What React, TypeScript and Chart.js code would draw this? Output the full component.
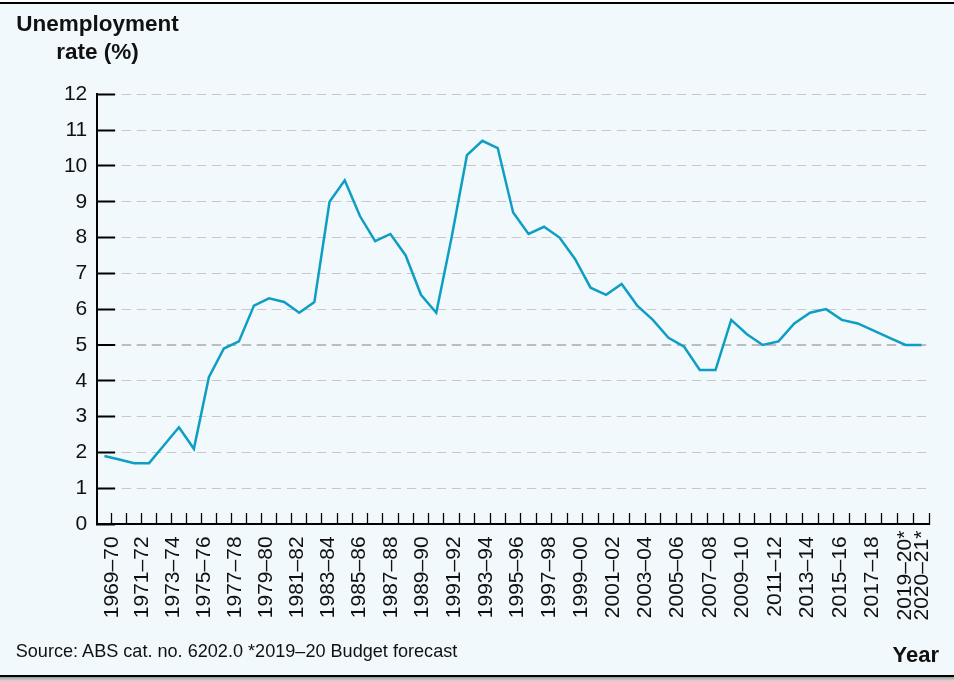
import React, { useEffect, useRef } from 'react';
import { Chart, registerables, CategoryScale, LinearScale } from 'chart.js';

// Unemployment rate (%) – one value per plotted step
const unemploymentRate = [
  1.9, 1.8, 1.7, 1.7, 2.2, 2.7, 2.1, 4.1, 4.9, 5.1,
  6.1, 6.3, 6.2, 5.9, 6.2, 9.0, 9.6, 8.6, 7.9, 8.1,
  7.5, 6.4, 5.9, 8.0, 10.3, 10.7, 10.5, 8.7, 8.1, 8.3,
  8.0, 7.4, 6.6, 6.4, 6.7, 6.1, 5.7, 5.2, 4.95, 4.3,
  4.3, 5.7, 5.3, 5.0, 5.1, 5.6, 5.9, 6.0, 5.7, 5.6,
  5.4, 5.2, 5.0, 5.0,
];

// Financial-year labels of the x axis
const yearLabels = [
  '1969–70', '1970–71', '1971–72', '1972–73', '1973–74', '1974–75', '1975–76', '1976–77',
  '1977–78', '1978–79', '1979–80', '1980–81', '1981–82', '1982–83', '1983–84', '1984–85',
  '1985–86', '1986–87', '1987–88', '1988–89', '1989–90', '1990–91', '1991–92', '1992–93',
  '1993–94', '1994–95', '1995–96', '1996–97', '1997–98', '1998–99', '1999–00', '2000–01',
  '2001–02', '2002–03', '2003–04', '2004–05', '2005–06', '2006–07', '2007–08', '2008–09',
  '2009–10', '2010–11', '2011–12', '2012–13', '2013–14', '2014–15', '2015–16', '2016–17',
  '2017–18', '2018–19', '2019–20*', '2020–21*',
];

const yMin = 0;
const yMax = 12;
const yStep = 1;

const FONT = '"Liberation Sans", Arial, Helvetica, sans-serif';
const LINE_COLOR = '#0e9ec4';
const BG = '#f2f9fc';

// The printed axis is slightly compressed on its left side; reproduce that spacing.
const WARP = 0.0376;
const warp = (d: number) => d + WARP * (d * d - d);

class WarpedCategoryScale extends CategoryScale {
  static id = 'warpedCategory';
  static defaults = CategoryScale.defaults;
  getPixelForDecimal(d: number) {
    return super.getPixelForDecimal(warp(d));
  }
}

class WarpedLinearScale extends LinearScale {
  static id = 'warpedLinear';
  static defaults = LinearScale.defaults;
  getPixelForDecimal(d: number) {
    return super.getPixelForDecimal(warp(d));
  }
}

Chart.register(...registerables, WarpedCategoryScale as any, WarpedLinearScale as any);

export default function App() {
  const canvasRef = useRef<HTMLCanvasElement | null>(null);

  useEffect(() => {
    const canvas = canvasRef.current;
    if (!canvas) return;

    const stepLabels = unemploymentRate.map((_, i) => String(i));
    const shownYears = yearLabels
      .map((_, i) => i)
      .filter((i) => i % 2 === 0 || i === yearLabels.length - 1);

    // year axis: year j sits at plotted step 0.5 + 1.03 j
    const yearStep = 1.03;
    const yearOffset = 0.5;
    const n = unemploymentRate.length;
    const yearMin = (-0.5 - yearOffset) / yearStep;
    const yearMax = (n - 0.5 - yearOffset) / yearStep;

    const chart = new Chart(canvas, {
      type: 'line',
      data: {
        labels: stepLabels,
        datasets: [
          {
            data: unemploymentRate,
            borderColor: LINE_COLOR,
            borderWidth: 2.5,
            pointRadius: 0,
            pointHoverRadius: 0,
            tension: 0,
            fill: false,
            xAxisID: 'x',
            yAxisID: 'y',
          },
        ],
      },
      options: {
        responsive: false,
        animation: false,
        devicePixelRatio: 1,
        events: [],
        layout: { padding: { left: 37, top: 94.3, right: 20.7, bottom: 57 } },
        plugins: {
          legend: { display: false },
          tooltip: { enabled: false },
          title: { display: false },
        },
        scales: {
          x: {
            type: 'warpedCategory',
            position: 'bottom',
            weight: 0,
            offset: true,
            grid: {
              display: true,
              drawOnChartArea: false,
              offset: true,
              drawTicks: true,
              tickLength: -11,
              tickColor: '#000',
              tickWidth: 1.3,
              color: '#000',
            },
            border: { display: true, color: '#000', width: 2 },
            ticks: { display: false },
            afterFit: (s: any) => {
              s.height = 0;
            },
          },
          x2: {
            type: 'warpedLinear',
            position: 'bottom',
            weight: 1,
            bounds: 'data',
            min: yearMin,
            max: yearMax,
            grid: { display: false, drawTicks: false },
            border: { display: false },
            afterBuildTicks: (s: any) => {
              s.ticks = shownYears.map((v) => ({ value: v }));
            },
            ticks: {
              autoSkip: false,
              minRotation: 90,
              maxRotation: 90,
              padding: 6.6,
              color: '#111',
              font: { family: FONT, size: 21 },
              callback: (v: any) => {
                const lab = yearLabels[Math.round(Number(v))] ?? '';
                return lab.endsWith('*') ? lab : lab + ' ';
              },
            },
            afterFit: (s: any) => {
              s.height = 100;
            },
          },
          y: {
            type: 'linear',
            position: 'left',
            min: yMin,
            max: yMax,
            ticks: {
              stepSize: yStep,
              padding: 27.7,
              color: '#111',
              font: { family: FONT, size: 21 },
            },
            grid: {
              drawOnChartArea: true,
              drawTicks: true,
              tickLength: -18,
              tickColor: '#000',
              tickWidth: 2,
              tickBorderDash: [],
              color: (ctx: any) =>
                ctx.tick && ctx.tick.value === yMin
                  ? 'rgba(0,0,0,0)'
                  : ctx.tick && ctx.tick.value === 5
                  ? '#bdbdbd'
                  : '#c8c8c8',
              lineWidth: (ctx: any) => (ctx.tick && ctx.tick.value === 5 ? 2 : 1),
            },
            border: { display: true, color: '#000', width: 2, dash: [9.5, 5.5], dashOffset: 6.3 },
            afterFit: (s: any) => {
              s.width = 60;
            },
          },
        },
      } as any,
    });

    return () => chart.destroy();
  }, []);

  return (
    <div
      style={{
        position: 'absolute',
        left: 0,
        top: 0,
        width: 954,
        height: 681,
        background: BG,
        overflow: 'hidden',
        fontFamily: FONT,
        color: '#111',
      }}
    >
      <div style={{ position: 'absolute', left: 0, top: 0, width: 954, height: 2, background: '#fff' }} />
      <div style={{ position: 'absolute', left: 0, top: 2, width: 954, height: 1.5, background: '#000' }} />
      <div style={{ position: 'absolute', left: 0, top: 675, width: 954, height: 2, background: '#000' }} />
      <div
        style={{
          position: 'absolute',
          left: 0,
          top: 677,
          width: 954,
          height: 4,
          background: 'linear-gradient(#9a9a9a, #d8d8d8)',
        }}
      />
      <canvas
        ref={canvasRef}
        width={954}
        height={681}
        style={{ position: 'absolute', left: 0, top: 0, display: 'block' }}
      />
      <div
        style={{
          position: 'absolute',
          left: 0,
          top: 9.9,
          width: 195,
          textAlign: 'center',
          fontWeight: 'bold',
          fontSize: 22.5,
          lineHeight: '28px',
          whiteSpace: 'nowrap',
        }}
      >
        Unemployment
        <br />
        rate (%)
      </div>
      <div
        style={{
          position: 'absolute',
          left: 15.7,
          top: 642.3,
          fontSize: 18.1,
          lineHeight: '18px',
          whiteSpace: 'nowrap',
        }}
      >
        Source: ABS cat. no. 6202.0 *2019–20 Budget forecast
      </div>
      <div
        style={{
          position: 'absolute',
          right: 15,
          top: 643.9,
          fontSize: 22,
          fontWeight: 'bold',
          lineHeight: '22px',
          whiteSpace: 'nowrap',
        }}
      >
        Year
      </div>
    </div>
  );
}
